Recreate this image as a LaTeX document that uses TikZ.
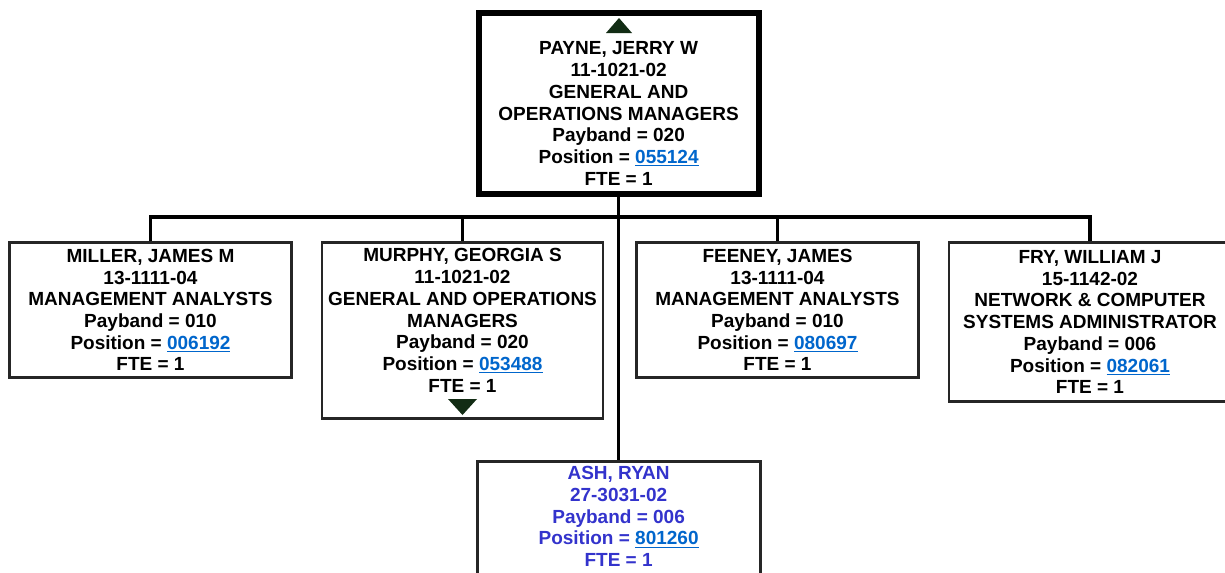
\documentclass[tikz,border=0pt]{standalone}
\usepackage{fontspec}
\setmainfont{Liberation Sans}
\usetikzlibrary{positioning}
\definecolor{linkblue}{RGB}{0,102,204}
\definecolor{subblue}{RGB}{51,51,204}
\definecolor{expander}{RGB}{18,44,20}
\newcommand{\poslink}[1]{\textcolor{linkblue}{\underline{#1}}}

\begin{document}
\begin{tikzpicture}[x=0.75pt,y=-0.75pt,
    posbox/.style={draw=black!85,line width=2.2pt,fill=white,inner sep=0pt,align=center,
      font=\fontsize{14.25}{16.3}\selectfont\bfseries,minimum width=211.5pt},
    headbox/.style={posbox,draw=black,line width=4.5pt},
    wire/.style={black,line width=2.6pt}]
        \useasboundingbox (0,0) rectangle (1225,572);
        \node[headbox,minimum width=210pt,minimum height=135.75pt] (payne) at (618.6,103.5)
          {\rule{0pt}{24.75pt}PAYNE, JERRY W\\11-1021-02\\GENERAL AND\\OPERATIONS MANAGERS\\Payband = 020\\Position = \poslink{055124}\\FTE = 1};
        \node[posbox,minimum height=101.25pt] (miller) at (150.5,310)
          {MILLER, JAMES M\\13-1111-04\\MANAGEMENT ANALYSTS\\Payband = 010\\Position = \poslink{006192}\\FTE = 1};
        \node[posbox,minimum width=210.75pt,minimum height=132pt] (murphy) at (462.5,330.5)
          {MURPHY, GEORGIA S\\11-1021-02\\GENERAL AND OPERATIONS\\MANAGERS\\Payband = 020\\Position = \poslink{053488}\\FTE = 1\rule[-15.2pt]{0pt}{0pt}};
        \node[posbox,minimum height=101.25pt] (feeney) at (777.5,310)
          {FEENEY, JAMES\\13-1111-04\\MANAGEMENT ANALYSTS\\Payband = 010\\Position = \poslink{080697}\\FTE = 1};
        \node[posbox,minimum height=119.25pt] (fry) at (1090,322)
          {FRY, WILLIAM J\\15-1142-02\\NETWORK \& COMPUTER\\SYSTEMS ADMINISTRATOR\\Payband = 006\\Position = \poslink{082061}\\FTE = 1};
        \node[posbox,text=subblue,minimum width=212.25pt,minimum height=103.9pt] (ash) at (618.6,530.75)
          {ASH, RYAN\\27-3031-02\\Payband = 006\\Position = \poslink{801260}\\FTE = 1\rule[-21.3pt]{0pt}{0pt}};
        \fill[expander] (606,33) -- (632,33) -- (619,18) -- cycle;
        \fill[expander] (448,399) -- (477,399) -- (462.5,415) -- cycle;
        \coordinate (bus) at (618.6,217);
        \draw[wire] (payne.south) -- (ash.north);
        \foreach \c in {miller,murphy,feeney,fry}{
          \draw[wire] (\c.north) |- (bus);
        }
      \end{tikzpicture}
\end{document}
